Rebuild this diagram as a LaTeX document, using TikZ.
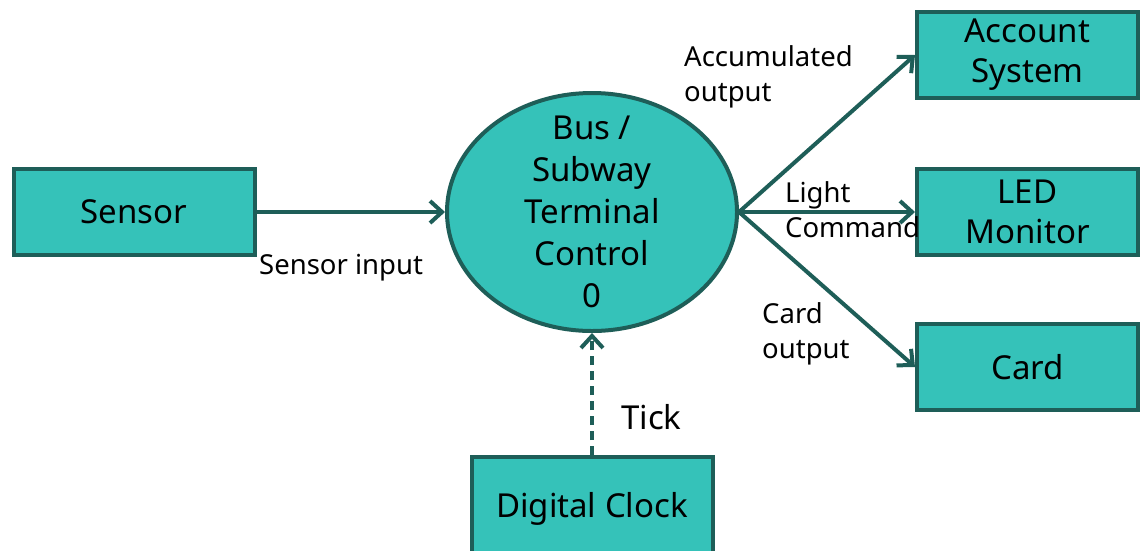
\documentclass[tikz,border=0pt]{standalone}
\usepackage{fontspec}
\setmainfont{Noto Sans}
\usepackage{tikz}
\usetikzlibrary{shapes}
\usetikzlibrary{arrows.meta}
\definecolor{tealfill}{RGB}{53,194,185}
\definecolor{tealline}{RGB}{30,94,88}
\tikzstyle{block} = [rectangle,fill=tealfill,draw=tealline,line width=4pt,
minimum width=241pt, minimum height=86pt, inner sep=0pt, align=center,
font=\fontsize{33}{40}\selectfont]
\tikzstyle{sink} = [block, minimum width=221pt]
\tikzstyle{process} = [ellipse,fill=tealfill,draw=tealline,line width=4pt,
minimum width=290pt, minimum height=238pt, inner sep=0pt]
\tikzstyle{flowlabel} = [anchor=west, inner sep=0pt, align=left,
font=\fontsize{27.5}{35}\selectfont]
\tikzstyle{flow} = [draw=tealline, line width=4pt,
-{Straight Barb[length=12pt,width=22pt,line width=4pt]}]
\tikzstyle{event} = [flow, dash pattern=on 9pt off 6pt]

\begin{document}
\begin{tikzpicture}[x=1pt,y=-1pt]
	\useasboundingbox (0,0) rectangle (1143,550);

	% external entities
	\node[block] (sensor)  at (134,212) {Sensor};
	\node[sink] (account) at (1027.5,55) {Account\\System};
	\node[sink] (led)     at (1027.5,212) {LED\\Monitor};
	\node[sink] (card)    at (1027.5,367) {Card};
	\node[block, minimum height=110pt] (clock) at (592,512) {};
	\node[font=\fontsize{33}{40}\selectfont] (clocktext) at (592,509) {Digital Clock};

	% the process
	\node[process] (control) at (592,212) {};
	\node[align=center, font=\fontsize{33}{42}\selectfont] (controltext)
	  at (control.center) {Bus /\\Subway\\Terminal\\Control\\0};

	% flows
	\draw[flow] (sensor.east) -- (control.west);
	\draw[flow] (control.east) -- (account.west);
	\draw[flow] (control.east) -- (led.west);
	\draw[flow] (control.east) -- (card.west);
	\draw[event] (clock.north) -- (control.south);

	% flow labels
	\node[flowlabel] (sensorinput) at (259,268) {Sensor input};
	\node[flowlabel] (accoutput)   at (684,77)  {Accumulated\\output};
	\node[flowlabel] (lightcmd)    at (785,210) {Light\\Command};
	\node[flowlabel] (cardoutput)  at (762,334) {Card\\output};
	\node[flowlabel, font=\fontsize{33}{40}\selectfont] (tick) at (621,417) {Tick};

\end{tikzpicture}
\end{document}
